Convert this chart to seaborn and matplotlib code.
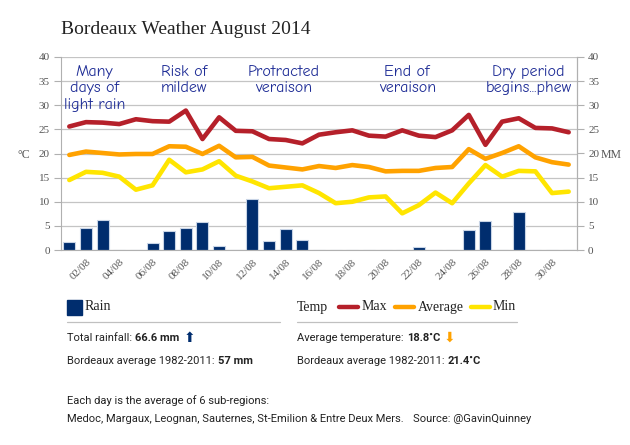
import numpy as np
import pandas as pd
import matplotlib
matplotlib.use('Agg')
import matplotlib.pyplot as plt
import seaborn as sns

sns.set_style('white')
plt.rcParams['font.family'] = ['Liberation Serif', 'DejaVu Serif']

# Daily values, August 2014 (average of 6 sub-regions)
days = list(range(1, 32))
t_max = [25.6, 26.5, 26.4, 26.1, 27.1, 26.7, 26.6, 28.9, 23.0, 27.5, 24.7, 24.6, 23.0, 22.8, 22.1, 23.9,
         24.4, 24.8, 23.7, 23.5, 24.8, 23.7, 23.4, 24.8, 28.0, 21.8, 26.6, 27.3, 25.3, 25.2, 24.4]
t_avg = [19.7, 20.4, 20.1, 19.8, 19.9, 19.9, 21.5, 21.4, 19.9, 21.6, 19.2, 19.3, 17.5, 17.1, 16.7, 17.4,
         17.0, 17.6, 17.2, 16.3, 16.4, 16.4, 17.0, 17.2, 20.9, 18.9, 20.1, 21.5, 19.2, 18.2, 17.7]
t_min = [14.5, 16.2, 16.0, 15.2, 12.5, 13.4, 18.7, 16.1, 16.7, 18.4, 15.4, 14.2, 12.8, 13.1, 13.4, 11.8,
         9.7, 10.0, 10.9, 11.1, 7.6, 9.3, 11.9, 9.7, 13.8, 17.6, 15.2, 16.4, 16.3, 11.8, 12.1]
rain = [1.7, 4.5, 6.2, 0, 0, 1.5, 4.0, 4.6, 5.7, 0.9, 0, 10.5, 1.8, 4.4, 2.0, 0,
        0, 0, 0, 0, 0, 0.7, 0, 0, 4.2, 6.1, 0, 7.8, 0, 0, 0]
notes = [(2.5, 'Many\ndays of\nlight rain'), (7.9, 'Risk of\nmildew'), (13.9, 'Protracted\nveraison'),
         (21.3, 'End of\nveraison'), (28.6, 'Dry period\nbegins...phew')]

df = pd.DataFrame({'day': days, 'Max': t_max, 'Average': t_avg, 'Min': t_min, 'Rain': rain})
df['pos'] = df['day'] - 1
df['label'] = [f'{d:02d}/08' for d in days]

c_max, c_avg, c_min, c_rain = '#b5202a', '#ffa200', '#ffe500', '#002d6e'
grey = '#555555'
W, H = 630, 445

fig = plt.figure(figsize=(6.3, 4.45), dpi=100)
ax = fig.add_axes([61 / W, 1 - 250 / H, 516 / W, 193 / H])

sns.barplot(data=df, x='pos', y='Rain', color=c_rain, width=0.72, edgecolor='#c8d4e6',
            linewidth=0.8, saturation=1, ax=ax, zorder=2)
for col, c in [('Max', c_max), ('Average', c_avg), ('Min', c_min)]:
    sns.lineplot(data=df, x='pos', y=col, color=c, linewidth=3.3, ax=ax, zorder=3)

ax.set_xlim(-0.5, 30.5)
ax.set_ylim(0, 40)
ax.set_yticks(range(0, 41, 5))
ax.yaxis.grid(True, color='#c4c4c4', linewidth=0.9, zorder=0)
ax.set_axisbelow(True)
ax.set_xlabel('')
ax.set_ylabel('')
ax.spines['top'].set_visible(False)
for s in ['left', 'right', 'bottom']:
    ax.spines[s].set_color('#b0b0b0')
ax.set_xticks(df['pos'][1::2])
ax.set_xticklabels(df['label'][1::2], rotation=45, ha='right', rotation_mode='anchor',
                   fontsize=8, color=grey)
ax.set_xticks(np.arange(0.5, 30.5, 1), minor=True)
ax.tick_params(axis='x', which='major', length=0, pad=5)
ax.tick_params(axis='x', which='minor', length=4, color='#b0b0b0', direction='out')
ax.tick_params(axis='y', length=5, color='#b0b0b0', labelsize=8, labelcolor=grey, pad=3)
fig.text(17 / W, 1 - 155 / H, '°C', fontsize=8.5, color=grey, va='center')

ax2 = ax.twinx()
ax2.set_ylim(0, 40)
ax2.set_yticks(range(0, 41, 5))
ax2.tick_params(axis='y', length=5, color='#b0b0b0', labelsize=8, labelcolor=grey, pad=3)
for s in ['top', 'left', 'bottom']:
    ax2.spines[s].set_visible(False)
ax2.spines['right'].set_color('#b0b0b0')
fig.text(601 / W, 1 - 155 / H, 'MM', fontsize=8.5, color=grey, va='center')

for x, t in notes:
    ax.text(x - 1, 38.3, t, ha='center', va='top', fontsize=11.5, color='#1f2d96',
            family=['Comic Neue', 'Humor Sans', 'DejaVu Sans'], linespacing=1.2, zorder=4)

fig.text(61 / W, 1 - 30 / H, 'Bordeaux Weather August 2014', fontsize=14,
         color='#222222', va='center')

# legend strip
fig.patches.append(plt.Rectangle((67 / W, 1 - 315 / H), 15 / W, 15 / H,
                                 transform=fig.transFigure, color=c_rain))
fig.text(85 / W, 1 - 307 / H, 'Rain', fontsize=10, va='center', color='#222222')
fig.text(297 / W, 1 - 307 / H, 'Temp', fontsize=10, va='center', color='#222222')
for x0, x1, xt, c, name in [(339, 358, 362, c_max, 'Max'), (395, 414, 418, c_avg, 'Average'),
                            (471, 490, 493, c_min, 'Min')]:
    fig.add_artist(plt.Line2D([x0 / W, x1 / W], [1 - 307 / H] * 2, color=c, linewidth=3.2))
    fig.text(xt / W, 1 - 307 / H, name, fontsize=10, va='center', color='#222222')
fig.add_artist(plt.Line2D([67 / W, 280 / W], [1 - 322 / H] * 2, color='#c0c0c0', linewidth=0.9))
fig.add_artist(plt.Line2D([297 / W, 517 / W], [1 - 322 / H] * 2, color='#c0c0c0', linewidth=0.9))

# bottom notes: no condensed face installed, so size the sans text to fit the space
sans = ['Roboto', 'Liberation Sans', 'DejaVu Sans']
medoc = 'Medoc, Margaux, Leognan, Sauternes, St-Emilion & Entre Deux Mers.'
probe = fig.text(0, 0, medoc, fontsize=10, family=sans)
fig.canvas.draw()
fs = 10 * 338 / probe.get_window_extent().width
probe.remove()


def note(x, y, s, weight='normal'):
    t = fig.text(x / W, 1 - y / H, s, fontsize=fs, va='center', family=sans,
                 weight=weight, color='#222222')
    fig.canvas.draw()
    return t.get_window_extent().x1


def stat(x, y, a, b, arrow=None, acol=None):
    xe = note(x, y, a)
    xe = note(xe + 3, y, b, weight='bold')
    if arrow:
        fig.text((xe + 4) / W, 1 - y / H, arrow, fontsize=10, va='center',
                 family=['DejaVu Sans'], color=acol)


stat(67, 338, 'Total rainfall:', '66.6 mm', '⬆', c_rain)
stat(67, 361, 'Bordeaux average 1982-2011:', '57 mm')
stat(297, 338, 'Average temperature:', '18.8˚C', '⬇', c_avg)
stat(297, 361, 'Bordeaux average 1982-2011:', '21.4˚C')

note(67, 401, 'Each day is the average of 6 sub-regions:')
note(67, 419, medoc)
note(413, 419, 'Source: @GavinQuinney')

fig.savefig('out.png', dpi=100)
